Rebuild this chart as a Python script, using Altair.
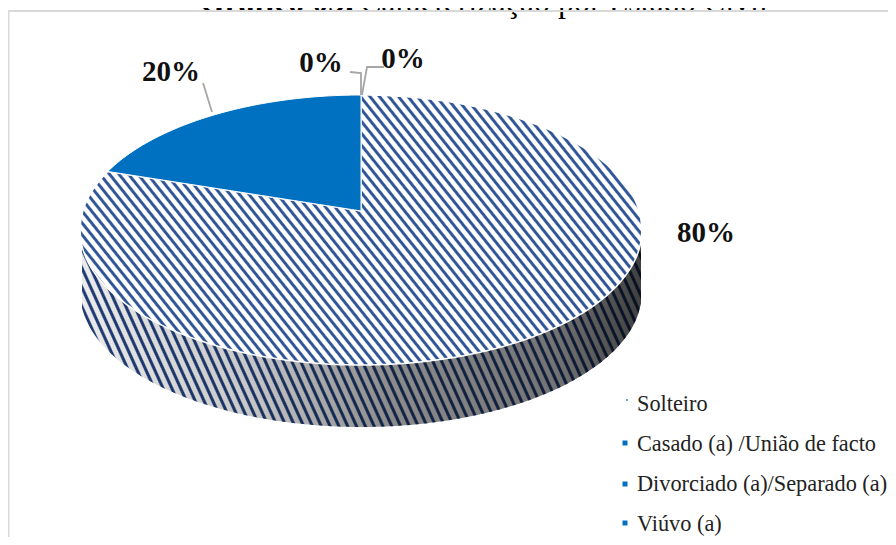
import math
import altair as alt
import pandas as pd

# --- values
categories = ["Solteiro", "Casado (a) /União de facto", "Divorciado (a)/Separado (a)", "Viúvo (a)"]
percent = [80, 20, 0, 0]
pct_labels = ["80%", "20%", "0%", "0%"]
pct_x = [706, 171, 321, 403]
pct_y = [242, 81, 72, 68]
legend_y = [411, 451, 491, 531]
marker_y = [400, 443, 484, 523]
marker_size = [3, 25, 25, 25]
title_bold = "Gráfico 03:"
title_rest = "Caracterização por Estado Civil"

# --- 3D-pie geometry (page pixels)
CX, CY, RX, RY = 361, 230, 281, 135
AX, AY = 361, 211
DEPTH = 62
BLUE = "#0070c0"

def top_y(x):
    return CY - RY * math.sqrt(max(0, 1 - ((x - CX) / RX) ** 2))

def bot_y(x):
    return CY + RY * math.sqrt(max(0, 1 - ((x - CX) / RX) ** 2))

theta = math.radians(360 * percent[1] / sum(percent))
dx, dy = -math.sin(theta) * RX, -math.cos(theta) * RY
t = 0.5
for _ in range(60):
    t2 = ((AX + dx * t - CX) / RX) ** 2 + ((AY + dy * t - CY) / RY) ** 2
    t *= (1 / t2) ** 0.25
xc = AX + dx * t

def cut_y(x):
    return AY + (x - AX) * dy / dx

def samples(a, b, n):
    return [a + (b - a) * i / n for i in range(n + 1)]

hatch = []
for x in samples(CX - RX, xc, 30):
    hatch.append((x, top_y(x), bot_y(x)))
for x in samples(xc, AX, 40):
    hatch.append((x, cut_y(x), bot_y(x)))
for x in samples(AX, CX + RX, 200):
    hatch.append((x, top_y(x), bot_y(x)))
df_hatch = pd.DataFrame(hatch, columns=["x", "ya", "yb"])

df_blue = pd.DataFrame(
    [(x, top_y(x), cut_y(x)) for x in samples(xc, AX, 80)], columns=["x", "ya", "yb"]
)

df_wall = pd.DataFrame(
    [(x, bot_y(x), bot_y(x) + DEPTH) for x in samples(CX - RX + 2, CX + RX - 1, 220)],
    columns=["x", "ya", "yb"],
)

def stripes(W, H, sx, sy, period, dark, light, frac):
    a, b = sx / W, sy / H
    k = (a + b) / (a * a + b * b)
    norm = math.hypot(sx, sy)
    n = round((W * sy + H * sx) / norm / period)
    stops = []
    for i in range(n):
        p0, p1, p2 = i / n, (i + frac) / n, (i + 1) / n
        soft = 0.08 / n
        stops += [
            {"offset": p0 + soft, "color": dark},
            {"offset": p1 - soft, "color": dark},
            {"offset": p1 + soft, "color": light},
            {"offset": p2 - soft, "color": light},
        ]
    return {"gradient": "linear", "x1": 0, "y1": 1, "x2": b * k, "y2": 1 - a * k, "stops": stops}

SX = alt.Scale(domain=[8, 888], zero=False, nice=False)
SY = alt.Scale(domain=[537, 8], zero=False, nice=False)
X = alt.X("x:Q", scale=SX, axis=None)
Y = alt.Y("y:Q", scale=SY, axis=None)
YA = alt.Y("ya:Q", scale=SY, axis=None)
Y2 = alt.Y2("yb")
O = alt.Order("index:Q")

def area_layer(df, **kw):
    return alt.Chart(df).mark_area(interpolate="linear", **kw).encode(x=X, y=YA, y2=Y2)

wall_h = df_wall["yb"].max() - df_wall["ya"].min()
wall_w = df_wall["x"].max() - df_wall["x"].min()
wall = area_layer(df_wall, fill=stripes(wall_w, wall_h, 1, 2.2, 8.0, "#20407f", "#ffffff", 0.38))
shade = area_layer(df_wall, fill={
    "gradient": "linear", "x1": 0, "y1": 0, "x2": 1, "y2": 0,
    "stops": [
        {"offset": 0, "color": "rgba(0,0,0,0.08)"},
        {"offset": 0.3, "color": "rgba(0,0,0,0.22)"},
        {"offset": 0.55, "color": "rgba(0,0,0,0.45)"},
        {"offset": 0.85, "color": "rgba(0,0,0,0.55)"},
        {"offset": 1, "color": "rgba(0,0,0,0.75)"},
    ],
})

top_face = area_layer(
    df_hatch,
    fill=stripes(2 * RX, 2 * RY, 1, 1.25, 7.4, "#2f5597", "#ffffff", 0.40),
    stroke="#ffffff", strokeWidth=1.5,
)
blue_face = area_layer(df_blue, fill=BLUE, stroke="#ffffff", strokeWidth=1)

# leader lines
df_lead = pd.DataFrame({
    "id": [0, 0, 1, 1, 1, 2, 2, 2],
    "index": list(range(8)),
    "x": [203, 212, 350, 361, 361, 384, 367, 362],
    "y": [83, 112, 72, 73, 95, 67, 67, 95],
})
leaders = alt.Chart(df_lead).mark_line(color="#a6a6a6", strokeWidth=1.8).encode(
    x=X, y=Y, detail="id:N", order=O
)

df_frame = pd.DataFrame({
    "id": [0, 0, 0],
    "index": [0, 1, 2],
    "x": [888, 8.5, 8.5],
    "y": [11, 11, 537],
})
frame = alt.Chart(df_frame).mark_line(color="#d9d9d9", strokeWidth=2).encode(
    x=X, y=Y, detail="id:N", order=O
)

df_pct = pd.DataFrame({"x": pct_x, "y": pct_y, "t": pct_labels})
pct = alt.Chart(df_pct).mark_text(
    font="Liberation Serif", fontSize=29, fontWeight="bold", color="#111111",
    align="center", baseline="alphabetic",
).encode(x=X, y=Y, text="t:N")

df_leg = pd.DataFrame({"x": [637] * 4, "y": legend_y, "t": categories})
leg = alt.Chart(df_leg).mark_text(
    font="Liberation Serif", fontSize=22.3, color="#222222", align="left", baseline="alphabetic",
).encode(x=X, y=Y, text="t:N")

df_mark = pd.DataFrame({"x": [627, 625, 625, 625], "y": marker_y, "s": marker_size})
marks = alt.Chart(df_mark).mark_square(color=BLUE, opacity=1).encode(
    x=X, y=Y, size=alt.Size("s:Q", scale=None, legend=None)
)

title_a = alt.Chart(pd.DataFrame({"x": [355], "y": [12], "t": [title_bold]})).mark_text(
    font="Liberation Serif", fontSize=32, fontWeight="bold", color="#000000",
    align="right", baseline="alphabetic",
).encode(x=X, y=Y, text="t:N")
title_b = alt.Chart(pd.DataFrame({"x": [360], "y": [12], "t": [title_rest]})).mark_text(
    font="Liberation Serif", fontSize=32, color="#000000", align="left", baseline="alphabetic",
).encode(x=X, y=Y, text="t:N")

chart = alt.layer(
    title_a, title_b, frame, wall, shade, top_face, blue_face, leaders, pct, leg, marks
).properties(
    width=880, height=529, padding=0, background="#ffffff",
    autosize=alt.AutoSizeParams(type="none"),
).configure_view(stroke=None)

chart.save("out.html", embed_options={"renderer": "svg", "actions": False})
